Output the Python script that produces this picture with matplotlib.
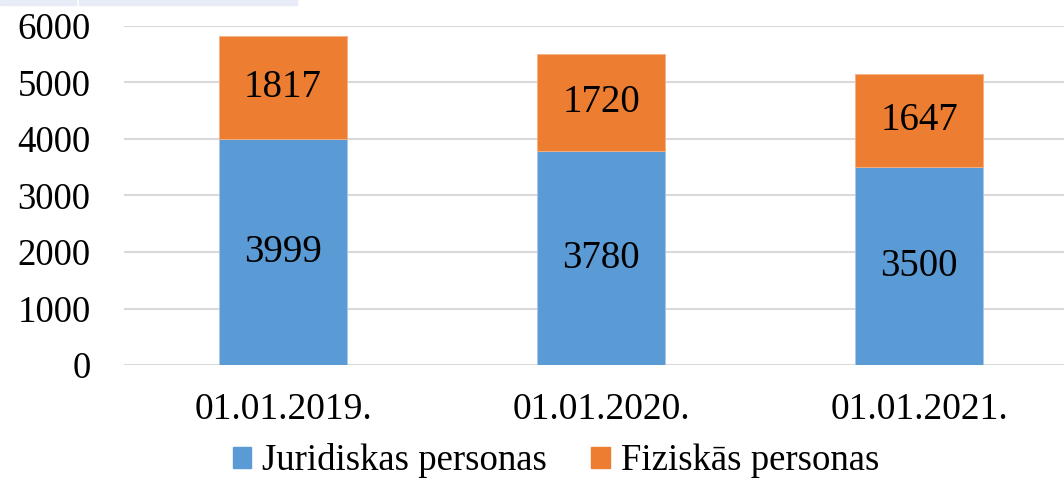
import numpy as np
import matplotlib.pyplot as plt
from matplotlib.patches import Rectangle, Patch

# -----------------------------------------------------------------------------
# data

dates = ['01.01.2019.', '01.01.2020.', '01.01.2021.']
juridiskas = [3999, 3780, 3500]
fiziskas = [1817, 1720, 1647]

# -----------------------------------------------------------------------------

plt.rcParams['font.family'] = ['Liberation Serif', 'DejaVu Serif']

BLUE = '#5B9BD5'
ORANGE = '#ED7D31'
GRID = '#D9D9D9'

W, H = 1064, 482
fig = plt.figure(figsize=(W / 100, H / 100), dpi=100)

# axes box in pixels (right edge runs off the picture like in the reference)
left, right, top, bottom = 124, 1078, 26, 365
ax = fig.add_axes([left / W, 1 - bottom / H, (right - left) / W, (bottom - top) / H])

x = np.arange(len(dates))
b1 = ax.bar(x, juridiskas, width=0.4, color=BLUE, edgecolor='#A9C8EA', linewidth=0.6, zorder=2)
b2 = ax.bar(x, fiziskas, width=0.4, bottom=juridiskas, color=ORANGE,
            edgecolor='#F4B183', linewidth=0.6, zorder=2)

ax.bar_label(b1, labels=[str(v) for v in juridiskas], label_type='center', fontsize=28)
ax.bar_label(b2, labels=[str(v) for v in fiziskas], label_type='center', fontsize=28)

ax.set_xlim(-0.5, 2.5)
ax.set_ylim(0, 6000)
ax.set_yticks(np.arange(0, 6001, 1000))
ax.set_xticks(x)
ax.set_xticklabels(dates)
ax.tick_params(axis='y', length=0, pad=24, labelsize=26.5)
ax.tick_params(axis='x', length=0, pad=20, labelsize=27)
ax.grid(axis='y', color=GRID, linewidth=1.5, zorder=0)
for s in ax.spines.values():
    s.set_visible(False)

# legend
handles = [Patch(color=BLUE, label='Juridiskas personas'),
           Patch(color=ORANGE, label='Fiziskās personas')]
fig.legend(handles=handles, loc='center', bbox_to_anchor=(556 / W, 1 - 461 / H),
           ncol=2, frameon=False, fontsize=26.5, handlelength=0.5, handleheight=0.5,
           handletextpad=0.3, columnspacing=1.2, borderpad=0)

# thin strip at the top edge of the source image
for x0, x1 in [(0, 76), (79, 297)]:
    fig.patches.append(Rectangle((x0 / W, 1 - 5 / H), (x1 - x0) / W, 5 / H,
                                 transform=fig.transFigure, color='#E8ECF6', zorder=0))

fig.savefig('out.png', dpi=100)
